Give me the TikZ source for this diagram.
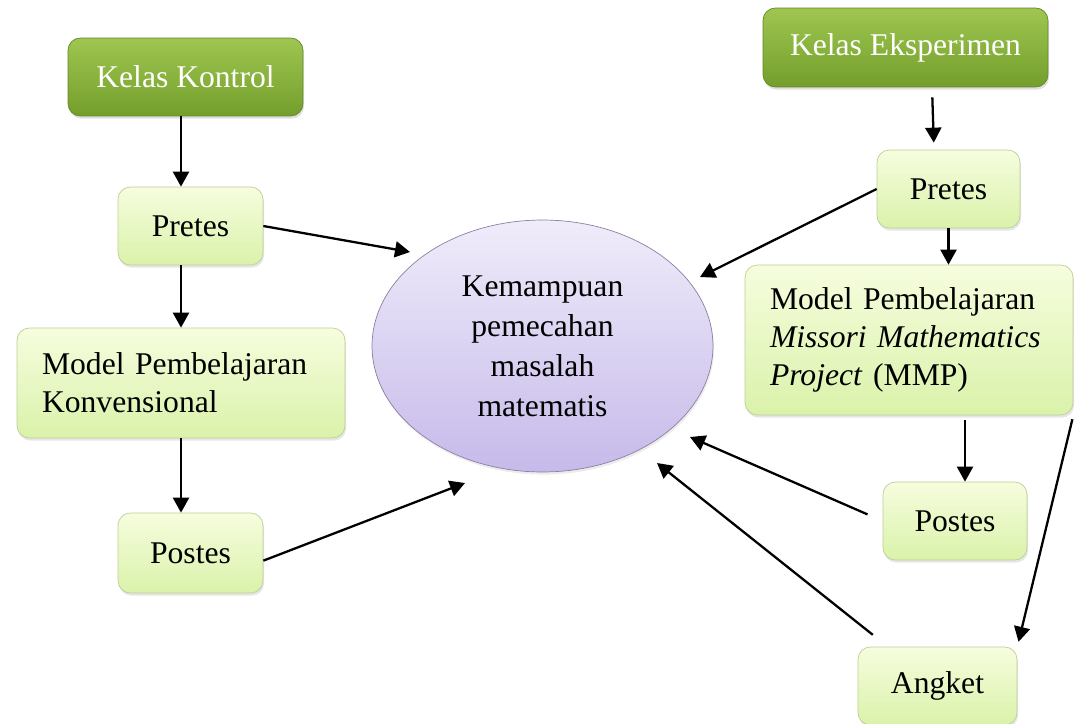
\documentclass[tikz,border=0pt]{standalone}
\usepackage{fontspec}
\setmainfont{Liberation Serif}
\usepackage{tikz}
\usetikzlibrary{positioning,arrows.meta,calc,shapes.geometric,shadows}
\usepackage{xcolor}

\definecolor{hijauTua}{RGB}{158,198,80}
\definecolor{hijauTuaB}{RGB}{116,158,44}
\definecolor{hijauMuda}{RGB}{246,253,222}
\definecolor{hijauMudaB}{RGB}{218,242,170}
\definecolor{garisHijau}{RGB}{190,206,150}
\definecolor{unguMuda}{RGB}{240,236,250}
\definecolor{unguMudaB}{RGB}{198,186,234}
\definecolor{garisUngu}{RGB}{140,128,160}

\begin{document}
\begin{tikzpicture}[x=0.02cm, y=-0.02cm,
    font=\fontsize{18}{21.5}\selectfont,
    kelas/.style={rounded corners=7pt, draw=hijauTuaB!85!black, top color=hijauTua, bottom color=hijauTuaB,
        text=white, drop shadow={opacity=0.25, shadow xshift=0.6pt, shadow yshift=-1.5pt}},
    kotak/.style={rounded corners=7pt, draw=garisHijau, top color=hijauMuda, bottom color=hijauMudaB,
        drop shadow={opacity=0.2, shadow xshift=0.6pt, shadow yshift=-1.5pt}},
    model/.style={kotak, align=left, inner xsep=0.5cm, text width=5.56cm},
    panah/.style={-{Triangle[length=0.3cm,width=0.32cm]}, line width=1.3pt}]
    \useasboundingbox (0,0) rectangle (1074,723);

    % kelas kontrol
    \node[kelas, minimum width=4.7cm, minimum height=1.56cm] (kelasK) at (185.5,77) {Kelas Kontrol};
    \node[kotak, minimum width=2.9cm, minimum height=1.56cm] (pretesK) at (190.5,226) {Pretes};
    \node[model, minimum height=2.2cm] (modelK) at (181,383) {Model Pembelajaran\\Konvensional};
    \node[kotak, minimum width=2.9cm, minimum height=1.6cm] (postesK) at (190.5,553) {Postes};

    % kemampuan
    \node[ellipse, draw=garisUngu, top color=unguMuda, bottom color=unguMudaB, align=center,
        minimum width=6.82cm, minimum height=5.04cm, font=\fontsize{18}{22.7}\selectfont,
        drop shadow={opacity=0.15, shadow xshift=0.6pt, shadow yshift=-1.5pt}] (hasil) at (542.5,346)
        {Kemampuan\\pemecahan\\masalah\\matematis};

    % kelas eksperimen
    \node[kelas, minimum width=5.7cm, minimum height=1.58cm] (kelasE) at (905.5,47.5) {Kelas Eksperimen};
    \node[kotak, minimum width=2.86cm, minimum height=1.56cm] (pretesE) at (948.5,189) {Pretes};
    \node[model, minimum height=3cm] (modelE) at (909,340)
        {Model Pembelajaran\\\textit{Missori Mathematics}\\\textit{Project} (MMP)};
    \node[kotak, minimum width=2.88cm, minimum height=1.56cm] (postesE) at (955,521) {Postes};
    \node[kotak, minimum width=3.18cm, minimum height=1.56cm] (angket) at (937.5,686) {Angket};

    % ujung panah dekat elips
    \coordinate (hPreK) at (410,252);
    \coordinate (hPosK) at (465,483);
    \coordinate (hPreE) at (700,277);
    \coordinate (hPosE) at (690,437);
    \coordinate (hAng) at (657,463);
    \coordinate (atasPosE) at ([xshift=0.2cm]postesE.north);

    % alur kiri
    \draw[panah] (kelasK.south -| modelK.north) -- (pretesK.north -| modelK.north);
    \draw[panah] (pretesK.south -| modelK.north) -- (modelK.north);
    \draw[panah] (modelK.south) -- (modelK.south |- postesK.north);
    \draw[panah] (pretesK.east) -- (hPreK);
    \draw[panah] (postesK.-6) -- (hPosK);

    % alur kanan
    \draw[panah, shorten <=0.2cm, shorten >=0.14cm] ([xshift=0.53cm]kelasE.south) -- ([xshift=-0.29cm]pretesE.north);
    \draw[panah] (pretesE.south) -- (pretesE.south |- modelE.north);
    \draw[panah] (pretesE.west) -- (hPreE);
    \draw[panah, shorten <=0.1cm] (modelE.south -| atasPosE) -- (atasPosE);
    \draw[panah, shorten <=0.33cm] (postesE.west) -- (hPosE);
    \draw[panah, shorten <=0.38cm] ([xshift=0.6cm]angket.north west) -- (hAng);
    \draw[panah, shorten <=0.08cm, shorten >=0.1cm] (modelE.south east) -- (angket.north east);
\end{tikzpicture}
\end{document}
